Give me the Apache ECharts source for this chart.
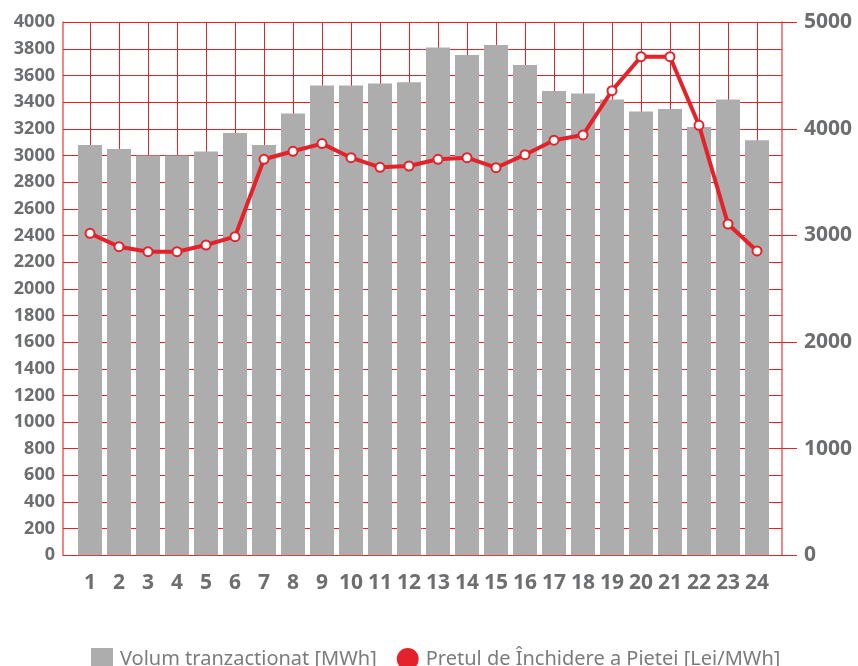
<!DOCTYPE html>
<html>
<head>
<meta charset="utf-8">
<script src="https://cdn.jsdelivr.net/npm/echarts@6/dist/echarts.min.js"></script>
<style>
html,body{margin:0;padding:0;background:#fff;}
#chart{width:858px;height:666px;}
</style>
</head>
<body>
<div id="chart"></div>
<script>
const hours = ['1','2','3','4','5','6','7','8','9','10','11','12','13','14','15','16','17','18','19','20','21','22','23','24'];
const volume = [3080,3050,3000,3000,3030,3170,3080,3315,3525,3525,3540,3550,3810,3755,3830,3680,3485,3465,3420,3330,3350,3215,3420,3115];
const price = [3020,2895,2848,2848,2911,2989,3715,3790,3862,3730,3640,3652,3715,3730,3636,3758,3894,3943,4359,4677,4677,4034,3108,2855];
const leftTicks = {min:0, max:4000, interval:200};
const rightTicks = {min:0, max:5000, interval:1000};
const volName = 'Volum tranzacționat [MWh]';
const priceName = 'Prețul de Închidere a Pieței [Lei/MWh]';

const red = '#e4222a';
const pink = 'rgba(228,34,42,0.55)';
const labelColor = '#6d6e70';
const font = 'Noto Sans';
const plain = v => String(v);

const chart = echarts.init(document.getElementById('chart'));
chart.setOption({
  animation:false,
  backgroundColor:'#fff',
  grid:[
    {left:63, right:76, top:22.3, bottom:110.7},
    {left:90, right:101, top:22.3, bottom:110.7}
  ],
  legend:{
    left:86, top:643,
    itemWidth:22, itemHeight:22, itemGap:20,
    textStyle:{fontFamily:font, fontSize:20, color:'#7b7b7b', padding:[0,0,0,2]},
    data:[
      {name:volName, icon:'rect', itemStyle:{color:'#adadad'}},
      {name:priceName, icon:'circle', itemStyle:{color:red, borderWidth:0}}
    ]
  },
  xAxis:[
    {gridIndex:0, type:'value', min:0, max:1, show:false},
    {gridIndex:1, type:'category', data:hours, boundaryGap:false,
     axisLine:{show:false}, axisTick:{show:false},
     splitLine:{show:true, lineStyle:{color:red, width:1}},
     axisLabel:{interval:0, margin:17, color:labelColor, fontFamily:font, fontWeight:'bold', fontSize:21}}
  ],
  yAxis:[
    {gridIndex:0, type:'value', position:'left', min:leftTicks.min, max:leftTicks.max, interval:leftTicks.interval,
     axisLine:{show:true, lineStyle:{color:pink, width:2}},
     axisTick:{show:false},
     splitLine:{show:true, lineStyle:{color:red, width:1}},
     axisLabel:{margin:8, formatter:plain, color:labelColor, fontFamily:font, fontWeight:'bold', fontSize:18}},
    {gridIndex:0, type:'value', position:'right', min:rightTicks.min, max:rightTicks.max, interval:rightTicks.interval,
     axisLine:{show:true, lineStyle:{color:pink, width:2}},
     axisTick:{show:true, length:15, lineStyle:{color:red, width:1}},
     splitLine:{show:false},
     axisLabel:{margin:22, formatter:plain, color:labelColor, fontFamily:font, fontWeight:'bold', fontSize:21}},
    {gridIndex:1, type:'value', min:leftTicks.min, max:leftTicks.max, show:false},
    {gridIndex:1, type:'value', min:rightTicks.min, max:rightTicks.max, show:false}
  ],
  series:[
    {name:volName, type:'bar', xAxisIndex:1, yAxisIndex:2, data:volume,
     barWidth:24, clip:false, itemStyle:{color:'#adadad'}},
    {name:priceName, type:'line', xAxisIndex:1, yAxisIndex:3, data:price,
     symbol:'emptyCircle', symbolSize:9, clip:false,
     lineStyle:{color:red, width:4},
     itemStyle:{color:red, borderColor:red, borderWidth:1.5}}
  ]
});
</script>
</body>
</html>
